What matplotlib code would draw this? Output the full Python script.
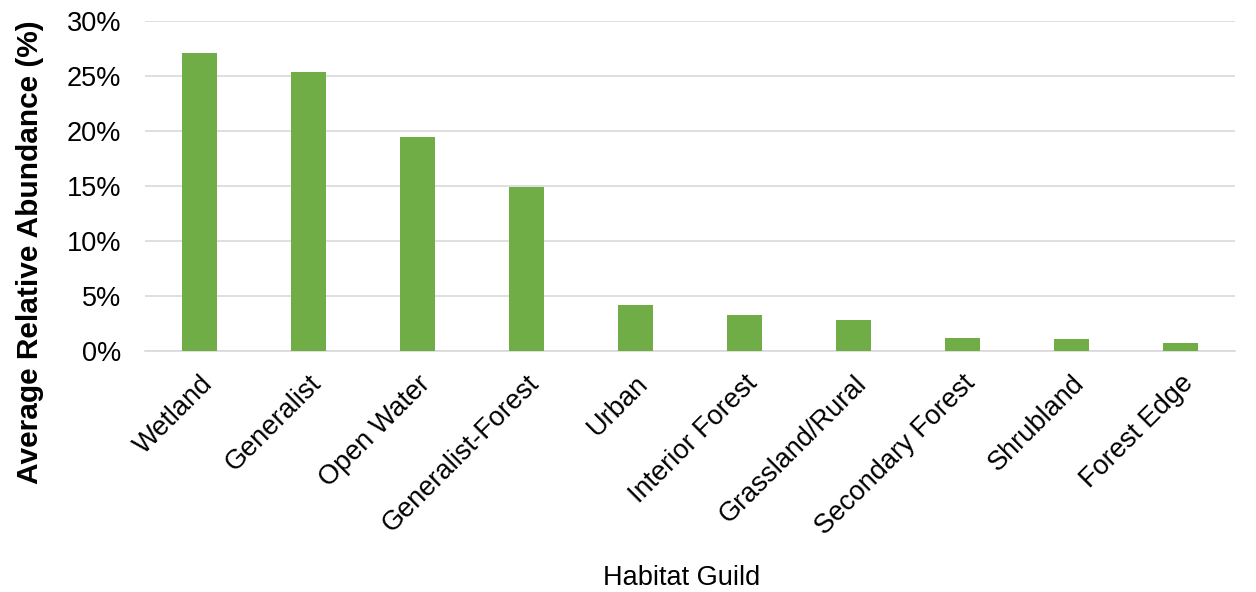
import matplotlib
matplotlib.use("Agg")
import matplotlib.pyplot as plt
from matplotlib.ticker import FuncFormatter, MultipleLocator

guilds = ["Wetland", "Generalist", "Open Water", "Generalist-Forest", "Urban",
          "Interior Forest", "Grassland/Rural", "Secondary Forest", "Shrubland", "Forest Edge"]
abundance = [27.1, 25.35, 19.45, 14.9, 4.2, 3.25, 2.8, 1.15, 1.05, 0.72]

plt.rcParams["font.family"] = ["Liberation Sans", "DejaVu Sans"]

W, H = 1256, 592
fig = plt.figure(figsize=(W / 100, H / 100), dpi=100)
ax = fig.add_axes([145 / W, 1 - 351 / H, (1235 - 145) / W, (351 - 21) / H])

x = range(len(guilds))
ax.bar(x, abundance, width=0.33, color="#70AD47", zorder=3)

ax.set_xlim(-0.5, len(guilds) - 0.5)
ax.set_ylim(0, 30)
ax.yaxis.set_major_locator(MultipleLocator(5))
ax.yaxis.set_major_formatter(FuncFormatter(lambda v, p: f"{v:.0f}%"))
ax.grid(axis="y", color="#D9D9D9", linewidth=1.2, zorder=0)
for s in ["top", "right", "left"]:
    ax.spines[s].set_visible(False)
ax.spines["bottom"].set_color("#D9D9D9")
ax.spines["bottom"].set_linewidth(1.2)
ax.tick_params(axis="both", length=0, labelsize=19.5)
ax.tick_params(axis="y", pad=17)
ax.tick_params(axis="x", pad=14)
ax.set_xticks(list(x))
ax.set_xticklabels(guilds, rotation=45, ha="right", rotation_mode="anchor")

fig.text(30 / W, 1 - 252 / H, "Average Relative Abundance (%)", rotation=90,
         ha="center", va="center", fontsize=21.5, fontweight="bold")
fig.text(682 / W, 1 - 578 / H, "Habitat Guild", ha="center", va="center", fontsize=19.5)

fig.savefig("out.png", dpi=100)
